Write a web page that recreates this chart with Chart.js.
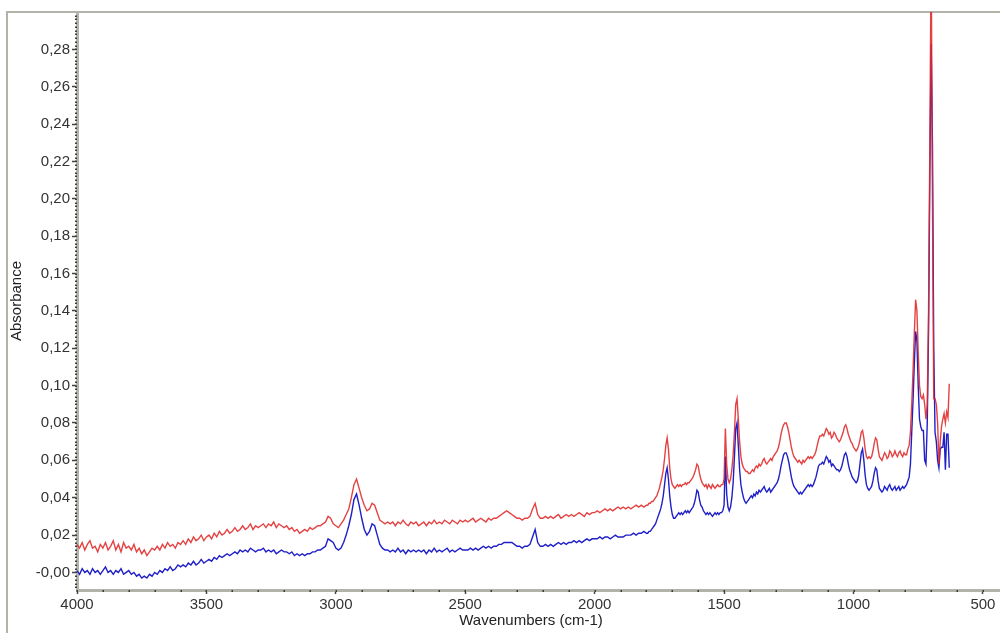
<!DOCTYPE html>
<html>
<head>
<meta charset="utf-8">
<script src="https://cdn.jsdelivr.net/npm/chart.js@4.4.1/dist/chart.umd.min.js"></script>
<style>
  html, body { margin: 0; padding: 0; background: #ffffff; }
  #c { display: block; }
</style>
</head>
<body>
<canvas id="c" width="1000" height="633"></canvas>
<script>
// Sampling of the spectra: [start wavenumber, end wavenumber, step] in cm-1
const sampling = [[4000, 1800, 10], [1795, 630, 5]];

// Upper spectrum (red), 4000-1800 cm-1, every 10 cm-1
const redHigh = [
  0.015, 0.013, 0.016, 0.012, 0.015, 0.017, 0.013, 0.014, 0.011, 0.015, 0.013,
  0.016, 0.012, 0.014, 0.017, 0.012, 0.015, 0.011, 0.016, 0.013, 0.014,
  0.012, 0.015, 0.011, 0.013, 0.010, 0.012, 0.009, 0.011, 0.013, 0.012,
  0.014, 0.012, 0.015, 0.013, 0.016, 0.014, 0.015, 0.013, 0.016, 0.015,
  0.017, 0.015, 0.018, 0.016, 0.019, 0.017, 0.018, 0.020, 0.017, 0.019,
  0.020, 0.018, 0.021, 0.019, 0.022, 0.020, 0.021, 0.023, 0.021, 0.022,
  0.024, 0.022, 0.023, 0.025, 0.023, 0.024, 0.026, 0.023, 0.025, 0.024,
  0.025, 0.026, 0.024, 0.026, 0.025, 0.027, 0.024, 0.026, 0.025, 0.024,
  0.025, 0.023, 0.024, 0.022, 0.023, 0.021, 0.022, 0.023, 0.022, 0.024,
  0.023, 0.024, 0.025, 0.025, 0.026, 0.027, 0.030, 0.029, 0.026, 0.025,
  0.024, 0.026, 0.028, 0.031, 0.034, 0.040, 0.047, 0.050, 0.045, 0.040,
  0.036, 0.033, 0.034, 0.037, 0.036, 0.032, 0.028, 0.027, 0.026, 0.027,
  0.026, 0.027, 0.025, 0.027, 0.026, 0.028, 0.026, 0.025, 0.027, 0.026,
  0.027, 0.025, 0.026, 0.027, 0.025, 0.027, 0.026, 0.028, 0.026, 0.027,
  0.026, 0.028, 0.027, 0.026, 0.028, 0.027, 0.026, 0.028, 0.027, 0.028,
  0.027, 0.028, 0.029, 0.027, 0.028, 0.029, 0.028, 0.027, 0.029, 0.028,
  0.029, 0.029, 0.030, 0.031, 0.032, 0.033, 0.032, 0.031, 0.030, 0.029,
  0.029, 0.028, 0.029, 0.029, 0.030, 0.034, 0.037, 0.031, 0.029, 0.029,
  0.030, 0.029, 0.030, 0.029, 0.030, 0.031, 0.029, 0.030, 0.031, 0.030,
  0.031, 0.030, 0.031, 0.032, 0.031, 0.030, 0.032, 0.031, 0.032, 0.032,
  0.033, 0.032, 0.033, 0.034, 0.033, 0.034, 0.033, 0.034, 0.035, 0.034,
  0.035, 0.034, 0.035, 0.034, 0.035, 0.036, 0.035, 0.036, 0.035, 0.036
];

// Upper spectrum (red), 1795-630 cm-1, every 5 cm-1
const redLow = [
  0.036, 0.037, 0.037, 0.038, 0.038, 0.039, 0.040, 0.041, 0.043, 0.045,
  0.048, 0.051, 0.055, 0.061, 0.068, 0.072, 0.066, 0.056, 0.050, 0.047,
  0.046, 0.045, 0.046, 0.047, 0.046, 0.047, 0.046, 0.047, 0.047, 0.048,
  0.047, 0.048, 0.048, 0.049, 0.050, 0.051, 0.053, 0.055, 0.058, 0.057,
  0.053, 0.050, 0.048, 0.047, 0.046, 0.047, 0.045, 0.047, 0.046, 0.045,
  0.047, 0.046, 0.045, 0.046, 0.047, 0.046, 0.046, 0.047, 0.047, 0.050,
  0.077, 0.058, 0.050, 0.048, 0.050, 0.055, 0.063, 0.075, 0.090, 0.093,
  0.082, 0.070, 0.062, 0.058, 0.056, 0.055, 0.054, 0.054, 0.053, 0.053,
  0.054, 0.055, 0.054, 0.056, 0.057, 0.056, 0.058, 0.057, 0.058, 0.060,
  0.061, 0.059, 0.058, 0.059, 0.060, 0.061, 0.060, 0.062, 0.063, 0.064,
  0.065, 0.067, 0.070, 0.074, 0.077, 0.079, 0.080, 0.080, 0.078, 0.075,
  0.071, 0.067, 0.064, 0.062, 0.061, 0.060, 0.059, 0.060, 0.059, 0.058,
  0.060, 0.059, 0.060, 0.061, 0.062, 0.061, 0.062, 0.061, 0.062, 0.063,
  0.065, 0.068, 0.071, 0.073, 0.073, 0.074, 0.073, 0.075, 0.077, 0.076,
  0.074, 0.075, 0.072, 0.073, 0.075, 0.074, 0.072, 0.071, 0.070, 0.071,
  0.073, 0.075, 0.078, 0.079, 0.077, 0.074, 0.072, 0.070, 0.069, 0.067,
  0.066, 0.065, 0.066, 0.068, 0.071, 0.075, 0.076, 0.072, 0.066, 0.062,
  0.061, 0.062, 0.061, 0.062, 0.065, 0.069, 0.072, 0.071, 0.066, 0.062,
  0.061, 0.060, 0.062, 0.064, 0.063, 0.061, 0.062, 0.065, 0.064, 0.062,
  0.063, 0.065, 0.063, 0.062, 0.064, 0.065, 0.063, 0.062, 0.064, 0.063,
  0.063, 0.066, 0.068, 0.075, 0.090, 0.108, 0.128, 0.146, 0.140, 0.118,
  0.100, 0.094, 0.093, 0.095, 0.090, 0.082, 0.090, 0.140, 0.230, 0.335,
  0.200, 0.093, 0.093, 0.090, 0.080, 0.058, 0.070, 0.078, 0.082, 0.085,
  0.080, 0.086, 0.083, 0.101
];

// Lower spectrum (blue), 4000-1800 cm-1, every 10 cm-1
const blueHigh = [
  0.001, -0.001, 0.002, 0.000, 0.001, -0.001, 0.002, 0.000, 0.001, -0.001, 0.001,
  0.003, 0.000, 0.001, -0.001, 0.001, 0.000, 0.002, -0.001, 0.000, 0.001,
  -0.001, 0.000, -0.002, -0.001, -0.003, -0.002, -0.003, -0.001, -0.002, 0.000,
  -0.001, 0.001, 0.000, 0.002, 0.001, 0.003, 0.001, 0.002, 0.004, 0.003,
  0.004, 0.003, 0.005, 0.004, 0.006, 0.004, 0.005, 0.007, 0.005, 0.006,
  0.007, 0.006, 0.008, 0.007, 0.009, 0.008, 0.009, 0.010, 0.009, 0.010,
  0.011, 0.010, 0.012, 0.011, 0.012, 0.011, 0.013, 0.012, 0.011, 0.012,
  0.012, 0.013, 0.011, 0.012, 0.011, 0.012, 0.010, 0.011, 0.012, 0.011,
  0.011, 0.010, 0.011, 0.009, 0.010, 0.009, 0.010, 0.009, 0.010, 0.010,
  0.011, 0.011, 0.012, 0.012, 0.013, 0.014, 0.018, 0.017, 0.016, 0.013,
  0.012, 0.013, 0.016, 0.020, 0.025, 0.031, 0.039, 0.042, 0.036, 0.029,
  0.023, 0.020, 0.022, 0.026, 0.025, 0.020, 0.015, 0.013, 0.012, 0.012,
  0.011, 0.012, 0.011, 0.013, 0.011, 0.012, 0.010, 0.012, 0.011, 0.012,
  0.011, 0.012, 0.011, 0.012, 0.010, 0.012, 0.011, 0.013, 0.011, 0.012,
  0.011, 0.012, 0.013, 0.011, 0.012, 0.011, 0.012, 0.013, 0.012, 0.012,
  0.012, 0.013, 0.012, 0.013, 0.012, 0.013, 0.014, 0.013, 0.014, 0.013,
  0.014, 0.014, 0.015, 0.015, 0.016, 0.016, 0.016, 0.016, 0.015, 0.014,
  0.014, 0.013, 0.014, 0.014, 0.015, 0.019, 0.023, 0.016, 0.014, 0.014,
  0.015, 0.014, 0.015, 0.014, 0.015, 0.016, 0.015, 0.016, 0.015, 0.016,
  0.016, 0.017, 0.016, 0.017, 0.016, 0.017, 0.018, 0.017, 0.018, 0.018,
  0.018, 0.019, 0.018, 0.019, 0.019, 0.018, 0.019, 0.020, 0.019, 0.019,
  0.019, 0.020, 0.020, 0.020, 0.021, 0.020, 0.021, 0.021, 0.022, 0.021
];

// Lower spectrum (blue), 1795-630 cm-1, every 5 cm-1
const blueLow = [
  0.021, 0.022, 0.022, 0.023, 0.024, 0.025, 0.026, 0.028, 0.030, 0.032,
  0.034, 0.037, 0.041, 0.047, 0.053, 0.056, 0.050, 0.041, 0.035, 0.031,
  0.029, 0.029, 0.030, 0.031, 0.032, 0.031, 0.032, 0.031, 0.032, 0.033,
  0.032, 0.033, 0.032, 0.033, 0.034, 0.035, 0.037, 0.040, 0.044, 0.043,
  0.039, 0.036, 0.035, 0.033, 0.032, 0.031, 0.032, 0.031, 0.032, 0.031,
  0.030, 0.031, 0.032, 0.031, 0.032, 0.031, 0.032, 0.032, 0.033, 0.036,
  0.062, 0.042, 0.035, 0.033, 0.035, 0.040, 0.048, 0.062, 0.077, 0.080,
  0.068, 0.055, 0.047, 0.043, 0.040, 0.038, 0.037, 0.038, 0.039, 0.040,
  0.041, 0.040, 0.042, 0.041, 0.043, 0.042, 0.044, 0.043, 0.044, 0.045,
  0.046, 0.044, 0.043, 0.044, 0.045, 0.043, 0.044, 0.045, 0.046, 0.047,
  0.048, 0.050, 0.053, 0.057, 0.060, 0.063, 0.064, 0.064, 0.062, 0.059,
  0.055, 0.051, 0.048, 0.046, 0.045, 0.044, 0.043, 0.042, 0.043, 0.042,
  0.043, 0.044, 0.045, 0.046, 0.047, 0.046, 0.047, 0.046, 0.047, 0.049,
  0.051, 0.054, 0.057, 0.058, 0.058, 0.059, 0.058, 0.060, 0.062, 0.061,
  0.059, 0.060, 0.057, 0.058, 0.057, 0.056, 0.055, 0.055, 0.054, 0.055,
  0.057, 0.060, 0.063, 0.064, 0.062, 0.058, 0.055, 0.053, 0.051, 0.050,
  0.049, 0.048, 0.049, 0.052, 0.058, 0.064, 0.066, 0.060, 0.052, 0.047,
  0.045, 0.044, 0.045, 0.046, 0.049, 0.053, 0.056, 0.055, 0.049, 0.045,
  0.044, 0.043, 0.044, 0.046, 0.045, 0.044, 0.046, 0.047, 0.045, 0.044,
  0.045, 0.046, 0.044, 0.045, 0.046, 0.044, 0.045, 0.046, 0.045, 0.046,
  0.047, 0.049, 0.051, 0.058, 0.075, 0.092, 0.112, 0.129, 0.124, 0.100,
  0.082, 0.078, 0.076, 0.076, 0.060, 0.058, 0.080, 0.130, 0.215, 0.283,
  0.230, 0.120, 0.075, 0.070, 0.060, 0.056, 0.066, 0.067, 0.067, 0.075,
  0.055, 0.074, 0.074, 0.056
];

// Axis ticks and labels
const xTicks = [4000, 3500, 3000, 2500, 2000, 1500, 1000, 500];
const yTicks = [0, 0.02, 0.04, 0.06, 0.08, 0.10, 0.12, 0.14, 0.16, 0.18, 0.20, 0.22, 0.24, 0.26, 0.28];
const yTickLabels = ['-0,00', '0,02', '0,04', '0,06', '0,08', '0,10', '0,12', '0,14',
                     '0,16', '0,18', '0,20', '0,22', '0,24', '0,26', '0,28'];
const xTitle = 'Wavenumbers (cm-1)';
const yTitle = 'Absorbance';

// Build the wavenumber grid from the sampling segments
const wavenumbers = [];
for (const [start, end, step] of sampling) {
  for (let w = start; w >= end; w -= step) wavenumbers.push(w);
}
const redValues = redHigh.concat(redLow);
const blueValues = blueHigh.concat(blueLow);
const toPoints = vals => wavenumbers.map((w, i) => ({ x: w, y: vals[i] }));

const FONT = "'Liberation Sans', Arial, Helvetica, sans-serif";
const FRAME = '#b3b3a9';

// White background and the outer frame lines
const framePlugin = {
  id: 'frame',
  beforeDraw(chart) {
    const ctx = chart.ctx;
    ctx.save();
    ctx.fillStyle = '#ffffff';
    ctx.fillRect(0, 0, chart.width, chart.height);
    ctx.strokeStyle = FRAME;
    ctx.lineWidth = 2;
    ctx.beginPath();
    ctx.moveTo(6, 12);
    ctx.lineTo(chart.width, 12);
    ctx.moveTo(7, 12);
    ctx.lineTo(7, chart.height);
    ctx.stroke();
    ctx.restore();
  }
};

// Minor tick dots along both axes plus the axis titles
const axisDecor = {
  id: 'axisDecor',
  afterDraw(chart) {
    const ctx = chart.ctx;
    const xs = chart.scales.x, ys = chart.scales.y;
    const area = chart.chartArea;
    ctx.save();
    ctx.fillStyle = '#3c3c3c';
    for (let k = -4; k <= 149; k++) {
      const py = ys.getPixelForValue(k * 0.002);
      if (py < area.top || py > area.bottom) continue;
      ctx.fillRect(area.left - 2, Math.round(py) - 0.5, 2, 1.5);
    }
    for (let w = 4000; w >= 500; w -= 100) {
      const px = xs.getPixelForValue(w);
      ctx.fillRect(Math.round(px) - 0.5, area.bottom, 1.5, 2);
    }
    ctx.fillStyle = '#222222';
    ctx.font = '15px ' + FONT;
    ctx.textAlign = 'center';
    ctx.textBaseline = 'middle';
    ctx.fillText(xTitle, 531, 621);
    ctx.translate(17, (area.top + area.bottom) / 2);
    ctx.rotate(-Math.PI / 2);
    ctx.fillText(yTitle, 0, 0);
    ctx.restore();
  }
};

new Chart(document.getElementById('c'), {
  type: 'scatter',
  data: {
    datasets: [
      {
        label: 'red',
        data: toPoints(redValues),
        showLine: true,
        borderColor: 'rgba(224, 40, 40, 0.88)',
        borderWidth: 1.4,
        pointRadius: 0,
        tension: 0,
        order: 1
      },
      {
        label: 'blue',
        data: toPoints(blueValues),
        showLine: true,
        borderColor: '#1f1fc8',
        borderWidth: 1.4,
        pointRadius: 0,
        tension: 0,
        order: 2
      }
    ]
  },
  options: {
    responsive: false,
    devicePixelRatio: 1,
    animation: false,
    layout: { padding: { top: 12, left: 0, right: 0, bottom: 0 } },
    plugins: {
      legend: { display: false },
      tooltip: { enabled: false },
      title: { display: false }
    },
    scales: {
      x: {
        type: 'linear',
        reverse: true,
        min: 434,
        max: 4000,
        afterFit(s) { s.height = 43; },
        afterBuildTicks(s) { s.ticks = xTicks.map(v => ({ value: v })); },
        grid: {
          drawOnChartArea: false,
          drawTicks: true,
          tickLength: 4,
          tickColor: '#444444',
          tickWidth: 1.5
        },
        border: { display: true, color: FRAME, width: 3 },
        ticks: {
          padding: 2,
          color: '#333333',
          font: { family: FONT, size: 15 },
          maxRotation: 0,
          autoSkip: false,
          callback: v => String(v)
        }
      },
      y: {
        type: 'linear',
        min: -0.0094,
        max: 0.300,
        afterFit(s) { s.width = 77; },
        afterBuildTicks(s) { s.ticks = yTicks.map(v => ({ value: v })); },
        grid: {
          drawOnChartArea: false,
          drawTicks: true,
          tickLength: 5,
          tickColor: '#444444',
          tickWidth: 1.5
        },
        border: { display: true, color: FRAME, width: 3 },
        ticks: {
          padding: 2,
          color: '#333333',
          font: { family: FONT, size: 15 },
          autoSkip: false,
          callback: (v, i) => yTickLabels[yTicks.indexOf(Math.round(v * 100) / 100)] ?? ''
        }
      }
    }
  },
  plugins: [framePlugin, axisDecor]
});
</script>
</body>
</html>
